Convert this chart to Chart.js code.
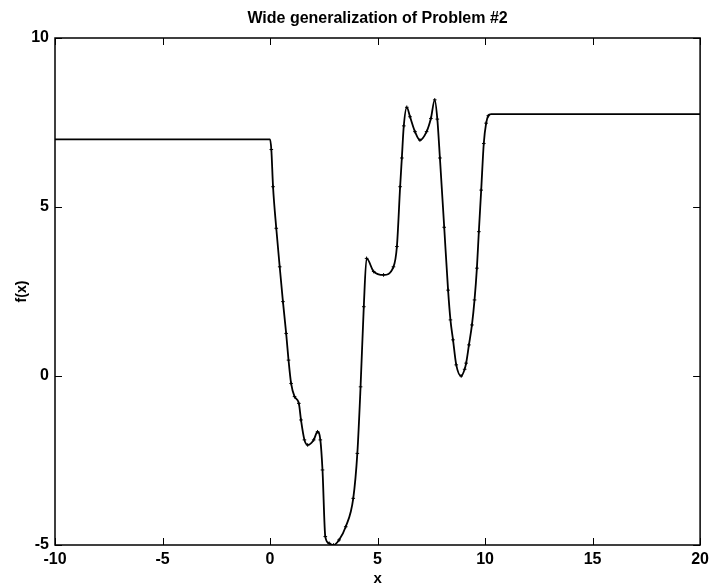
<!DOCTYPE html>
<html>
<head>
<meta charset="utf-8">
<script src="https://cdn.jsdelivr.net/npm/chart.js@4.4.0/dist/chart.umd.min.js"></script>
<style>
  html, body { margin: 0; padding: 0; background: #fff; }
  #wrap { width: 714px; height: 588px; }
</style>
</head>
<body>
<div id="wrap"><canvas id="plot" width="714" height="588"></canvas></div>
<script>
  // values
  const xs = [-10, 0, 0.06, 0.14, 0.29, 0.45, 0.6, 0.75, 0.86, 0.98, 1.14, 1.34, 1.44, 1.6, 1.75,
    2.03, 2.21, 2.34, 2.44, 2.57, 2.75, 2.95, 3.21, 3.52, 3.87, 4.06, 4.21, 4.36, 4.49, 4.82,
    5.28, 5.74, 5.9, 6.05, 6.13, 6.22, 6.36, 6.51, 6.74, 6.97, 7.28, 7.48, 7.66, 7.78, 7.9,
    8.1, 8.28, 8.39, 8.51, 8.66, 8.89, 9.05, 9.12, 9.25, 9.39, 9.51, 9.62, 9.71, 9.82, 9.94,
    10.05, 10.15, 10.28, 20];
  const ys = [7.0, 7.0, 6.7, 5.6, 4.37, 3.23, 2.2, 1.26, 0.47, -0.22, -0.61, -0.81, -1.3, -1.89, -2.04,
    -1.89, -1.65, -1.89, -2.78, -4.75, -4.95, -5.0, -4.85, -4.46, -3.62, -2.29, -0.32, 2.05, 3.48, 3.09,
    2.99, 3.23, 3.83, 5.6, 6.45, 7.4, 7.95, 7.67, 7.23, 6.98, 7.23, 7.62, 8.17, 7.6, 6.45,
    4.4, 2.54, 1.66, 1.07, 0.33, 0.0, 0.2, 0.38, 0.92, 1.51, 2.25, 3.19, 4.27, 5.5, 6.88,
    7.48, 7.7, 7.75, 7.75];

  const xTicks = [-10, -5, 0, 5, 10, 15, 20];
  const yTicks = [-5, 0, 5, 10];

  const points = xs.map((x, i) => ({ x: x, y: ys[i] }));
  const fontFamily = '"Liberation Sans", Arial, sans-serif';

  // matlab style box with inward ticks on all four sides
  const boxTicks = {
    id: 'boxTicks',
    afterDraw(chart) {
      const ctx = chart.ctx;
      const a = chart.chartArea;
      const sx = chart.scales.x;
      const sy = chart.scales.y;
      const len = 7;
      ctx.save();
      ctx.strokeStyle = '#000';
      ctx.lineWidth = 1.5;
      ctx.strokeRect(a.left, a.top, a.right - a.left, a.bottom - a.top);
      ctx.lineWidth = 1;
      ctx.beginPath();
      xTicks.forEach(v => {
        const px = Math.round(sx.getPixelForValue(v)) + 0.5;
        ctx.moveTo(px, a.bottom); ctx.lineTo(px, a.bottom - len);
        ctx.moveTo(px, a.top); ctx.lineTo(px, a.top + len);
      });
      yTicks.forEach(v => {
        const py = Math.round(sy.getPixelForValue(v)) + 0.5;
        ctx.moveTo(a.left, py); ctx.lineTo(a.left + len, py);
        ctx.moveTo(a.right, py); ctx.lineTo(a.right - len, py);
      });
      ctx.stroke();
      ctx.restore();
    }
  };

  new Chart(document.getElementById('plot'), {
    type: 'scatter',
    data: {
      datasets: [{
        data: points,
        showLine: true,
        borderColor: '#000',
        backgroundColor: '#000',
        borderWidth: 1.8,
        cubicInterpolationMode: 'monotone',
        pointStyle: 'cross',
        pointBorderWidth: 1,
        pointRadius: ctx => {
          const x = ctx.raw ? ctx.raw.x : 0;
          return (x > 0.05 && x < 10.2) ? 1.8 : 0;
        }
      }]
    },
    options: {
      responsive: false,
      animation: false,
      layout: { padding: { left: 0, right: 9, top: 0, bottom: 0 } },
      plugins: {
        legend: { display: false },
        tooltip: { enabled: false },
        title: {
          display: true,
          fullSize: false,
          text: 'Wide generalization of Problem #2',
          color: '#000',
          font: { family: fontFamily, size: 16, weight: 'bold' },
          padding: { top: 9, bottom: 9.8 }
        }
      },
      scales: {
        x: {
          type: 'linear',
          min: -10,
          max: 20,
          afterBuildTicks: scale => { scale.ticks = xTicks.map(v => ({ value: v })); },
          afterFit: scale => { scale.height = 43; },
          grid: { display: false, drawTicks: false },
          border: { display: false },
          ticks: {
            color: '#000',
            padding: 5,
            maxRotation: 0,
            font: { family: fontFamily, size: 16, weight: 'bold' }
          },
          title: {
            display: true,
            text: 'x',
            color: '#000',
            padding: { top: 0, bottom: 0 },
            font: { family: fontFamily, size: 15, weight: 'bold' }
          }
        },
        y: {
          type: 'linear',
          min: -5,
          max: 10,
          afterBuildTicks: scale => { scale.ticks = yTicks.map(v => ({ value: v })); },
          afterFit: scale => { scale.width = 55; },
          grid: { display: false, drawTicks: false },
          border: { display: false },
          ticks: {
            color: '#000',
            padding: 6,
            font: { family: fontFamily, size: 16, weight: 'bold' }
          },
          title: {
            display: true,
            text: 'f(x)',
            color: '#000',
            padding: { top: 14, bottom: 0 },
            font: { family: fontFamily, size: 14, weight: 'bold' }
          }
        }
      }
    },
    plugins: [boxTicks]
  });
</script>
</body>
</html>
